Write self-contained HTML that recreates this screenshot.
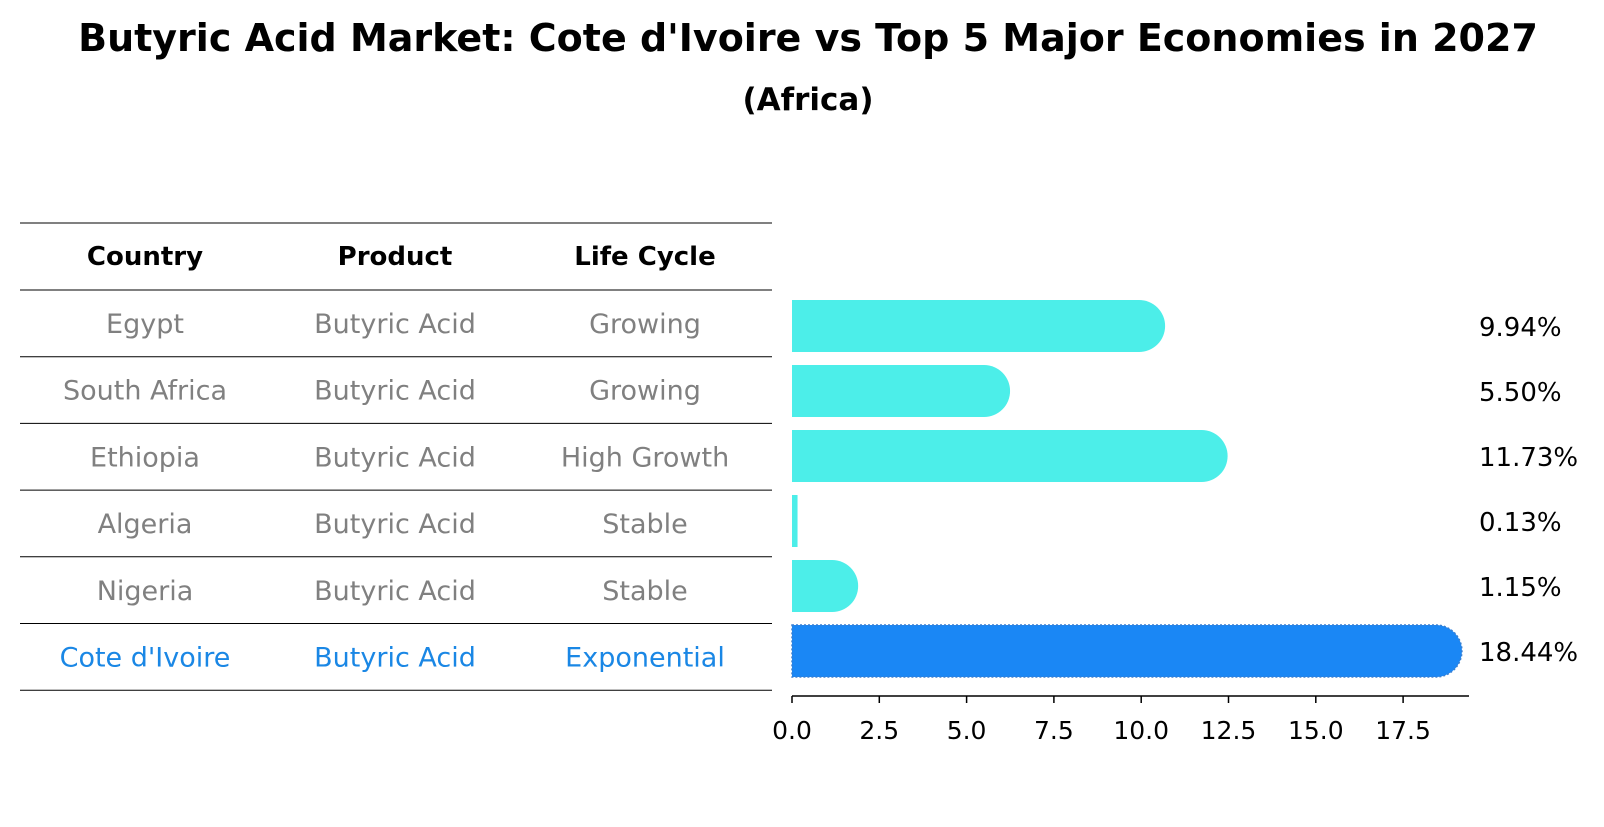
<!DOCTYPE html>
<html><head><meta charset="utf-8"><style>
body{margin:0;background:#fff;font-family:"DejaVu Sans","Liberation Sans",sans-serif;}
</style></head><body>
<svg width="1604" height="823" xmlns="http://www.w3.org/2000/svg" font-family="DejaVu Sans, Liberation Sans, sans-serif">
<text x="808" y="51" text-anchor="middle" font-size="38" font-weight="bold">Butyric Acid Market: Cote d'Ivoire vs Top 5 Major Economies in 2027</text>
<text x="808" y="110" text-anchor="middle" font-size="31" font-weight="bold">(Africa)</text>
<g id="table"></g>
<g id="bars"></g>
</svg>
<script>
const countries=["Egypt","South Africa","Ethiopia","Algeria","Nigeria","Cote d'Ivoire"];
const products=["Butyric Acid","Butyric Acid","Butyric Acid","Butyric Acid","Butyric Acid","Butyric Acid"];
const lifeCycles=["Growing","Growing","High Growth","Stable","Stable","Exponential"];
const values=[9.94,5.50,11.73,0.13,1.15,18.44];
const valueLabels=["9.94%","5.50%","11.73%","0.13%","1.15%","18.44%"];
const ticks=[0,2.5,5,7.5,10,12.5,15,17.5];
const tickLabels=["0.0","2.5","5.0","7.5","10.0","12.5","15.0","17.5"];
const NS="http://www.w3.org/2000/svg";
function mk(t,a,p){const e=document.createElementNS(NS,t);for(const k in a)e.setAttribute(k,a[k]);p.appendChild(e);return e;}
const x=v=>792+v*34.92;
const rowTop=i=>290+i*66.7;
const barTop=i=>625-(values.length-1-i)*65;
const tbl=document.getElementById('table');
const colX=[145,395,645];
for(let i=0;i<=7;i++){const y=i===0?223:rowTop(i-1);
 const l=mk('line',{x1:20,x2:772,y1:y,y2:y,stroke:'#000','stroke-width':1},tbl);
 
 }
["Country","Product","Life Cycle"].forEach((h,j)=>{const t=mk('text',{x:colX[j],y:265,'text-anchor':'middle','font-size':26,'font-weight':'bold'},tbl);t.textContent=h;
 
 });
countries.forEach((c,i)=>{const col=i===countries.length-1?'#1a87e5':'#808080';
 [c,products[i],lifeCycles[i]].forEach((s,j)=>{const t=mk('text',{x:colX[j],y:rowTop(i)+43,'text-anchor':'middle','font-size':27,fill:col},tbl);t.textContent=s;
 
 });});
const bg=document.getElementById('bars');
values.forEach((v,i)=>{const top=barTop(i),h=52,r=26;const last=i===values.length-1;
 const xe=x(v);let d;
 if(v>0.5){d=`M792,${top} H${xe} A${r},${r} 0 0 1 ${xe},${top+h} H792 Z`;}
 else d=`M792,${top} H${xe+1} V${top+h} H792 Z`;
 const p=mk('path',{d:d,fill:last?'#1a87f5':'#4ceee9'},bg);
 if(last){p.setAttribute('stroke','#3a7fd0');p.setAttribute('stroke-dasharray','2 2');p.setAttribute('stroke-width','1.5');}
 
 
 const t=mk('text',{x:1479,y:top+36,'font-size':26},bg);t.textContent=valueLabels[i];
 
 });
const ax=mk('line',{x1:792,x2:1469,y1:696,y2:696,stroke:'#000','stroke-width':1.5},bg);


ticks.forEach((tv,i)=>{const l=mk('line',{x1:x(tv),x2:x(tv),y1:696,y2:703,stroke:'#000','stroke-width':1.5},bg);
 
 
 const t=mk('text',{x:x(tv),y:739,'text-anchor':'middle','font-size':25},bg);t.textContent=tickLabels[i];
 
 });
</script>
</body></html>
